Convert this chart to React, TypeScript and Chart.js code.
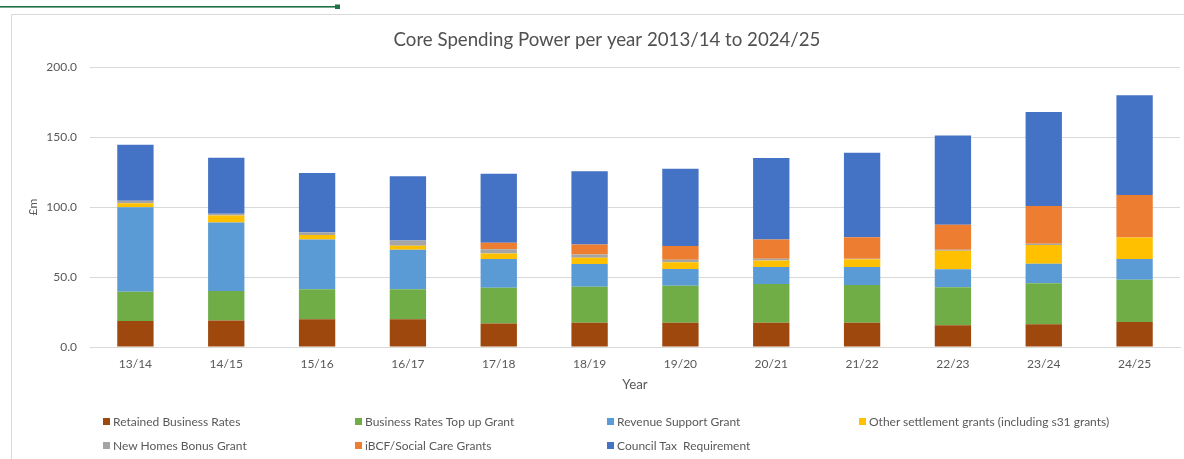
import React, { useEffect, useRef } from "react";
import { Chart, registerables } from "chart.js";

Chart.register(...registerables);

const chartTitle = "Core Spending Power per year 2013/14 to 2024/25";
const years = ["13/14", "14/15", "15/16", "16/17", "17/18", "18/19", "19/20", "20/21", "21/22", "22/23", "23/24", "24/25"];

const retainedBusinessRates = [18.6, 19.0, 19.8, 19.8, 16.7, 17.4, 17.4, 17.4, 17.4, 15.5, 16.2, 17.9];
const businessRatesTopUp = [20.9, 21.0, 21.4, 21.4, 25.7, 25.7, 26.4, 27.6, 26.9, 27.1, 29.3, 30.2];
const revenueSupportGrant = [60.3, 49.0, 35.5, 28.3, 20.5, 16.2, 11.9, 12.1, 12.8, 12.9, 14.0, 14.8];
const otherSettlementGrants = [2.9, 5.0, 3.3, 2.9, 3.8, 4.5, 4.8, 4.6, 5.5, 13.3, 13.4, 15.4];
const newHomesBonus = [1.7, 1.2, 1.9, 3.6, 3.1, 2.2, 1.9, 1.4, 0.5, 0.7, 0.9, 0];
const ibcfSocialCare = [0, 0, 0, 0, 4.7, 7.3, 9.7, 13.6, 15.3, 17.9, 26.9, 30.3];
const councilTax = [40.0, 40.0, 42.4, 45.9, 49.3, 52.2, 55.3, 58.3, 60.4, 63.6, 67.2, 71.2];

const seriesNames = [
  "Retained Business Rates",
  "Business Rates Top up Grant",
  "Revenue Support Grant",
  "Other settlement grants (including s31 grants)",
  "New Homes Bonus Grant",
  "iBCF/Social Care Grants",
  "Council Tax  Requirement",
];
const seriesValues = [
  retainedBusinessRates,
  businessRatesTopUp,
  revenueSupportGrant,
  otherSettlementGrants,
  newHomesBonus,
  ibcfSocialCare,
  councilTax,
];
const seriesColors = ["#9E480E", "#70AD47", "#5B9BD5", "#FFC000", "#A5A5A5", "#ED7D31", "#4472C4"];

const yTickMax = 200;
const yTickStep = 50;
const yAxisTitle = "£m";
const xAxisTitle = "Year";

const TEXT = "#595959";

const legendCols = [103, 355, 607, 859];
const legendRows = [421, 445];

const framePlugin = {
  id: "frameAndTitle",
  beforeDraw(chart: any) {
    const ctx = chart.ctx;
    ctx.save();
    ctx.fillStyle = "#ffffff";
    ctx.fillRect(0, 0, chart.width, chart.height);
    // chart frame
    ctx.strokeStyle = "#d9d9d9";
    ctx.lineWidth = 1;
    ctx.beginPath();
    ctx.moveTo(11.5, chart.height + 2);
    ctx.lineTo(11.5, 14.5);
    ctx.lineTo(chart.width + 2, 14.5);
    ctx.stroke();
    // green selection line
    ctx.fillStyle = "#217346";
    ctx.fillRect(0, 6, 337, 1.6);
    ctx.fillRect(335, 4.5, 5, 4.5);
    ctx.restore();
  },
  afterDraw(chart: any) {
    const ctx = chart.ctx;
    ctx.save();
    ctx.font = "18.67px Lato, 'Open Sans', sans-serif";
    ctx.fillStyle = "#505050";
    ctx.textAlign = "center";
    ctx.textBaseline = "middle";
    ctx.fillText(chartTitle, 607, 40);
    ctx.restore();
  },
};

export default function App() {
  const ref = useRef<HTMLCanvasElement>(null);

  useEffect(() => {
    Chart.defaults.font.family = "Lato, 'Open Sans', sans-serif";
    const chart = new Chart(ref.current!, {
      type: "bar",
      data: {
        labels: years,
        datasets: seriesNames.map((name, i) => ({
          label: name,
          data: seriesValues[i],
          backgroundColor: seriesColors[i],
          borderWidth: 0,
          categoryPercentage: 1,
          barPercentage: 0.4,
          stack: "s",
        })),
      },
      options: {
        responsive: false,
        animation: false,
        layout: { padding: { left: 11, top: 67, right: 4, bottom: 64 } },
        plugins: {
          legend: { display: false },
          title: { display: false },
          tooltip: { enabled: false },
        },
        scales: {
          x: {
            stacked: true,
            grid: { display: false, drawTicks: false },
            border: { display: true, color: "#d9d9d9" },
            ticks: { color: TEXT, font: { size: 12 }, padding: 10 },
            title: {
              display: true,
              text: xAxisTitle,
              color: TEXT,
              font: { size: 13.3 },
              padding: { top: 0, bottom: 2 },
            },
            afterFit: (scale: any) => {
              scale.height = 48;
            },
          },
          y: {
            stacked: true,
            min: 0,
            max: yTickMax,
            grid: { color: "#d9d9d9", drawTicks: false },
            border: { display: false },
            ticks: {
              stepSize: yTickStep,
              color: TEXT,
              font: { size: 12 },
              padding: 13,
              callback: (v: any) => Number(v).toFixed(1),
            },
            title: {
              display: true,
              text: yAxisTitle,
              color: TEXT,
              font: { size: 12 },
              padding: { top: 15, bottom: 0 },
            },
            afterFit: (scale: any) => {
              scale.width = 79;
            },
          },
        },
      },
      plugins: [framePlugin],
    });
    return () => chart.destroy();
  }, []);

  return (
    <div
      style={{
        position: "fixed",
        left: 0,
        top: 0,
        width: 1184,
        height: 459,
        background: "#fff",
        overflow: "hidden",
      }}
    >
      <canvas
        ref={ref}
        width={1184}
        height={459}
        style={{ position: "absolute", left: 0, top: 0, width: 1184, height: 459 }}
      />
      {seriesNames.map((name, i) => {
        const col = i % 4;
        const row = Math.floor(i / 4);
        return (
          <div
            key={name}
            style={{
              position: "absolute",
              left: legendCols[col],
              top: legendRows[row] - 8,
              height: 16,
              display: "flex",
              alignItems: "center",
              fontFamily: "Lato, 'Open Sans', sans-serif",
              fontSize: 12,
              color: TEXT,
              whiteSpace: "pre",
            }}
          >
            <span
              style={{
                display: "inline-block",
                width: 7,
                height: 7,
                background: seriesColors[i],
                marginRight: 3,
              }}
            />
            <span>{name}</span>
          </div>
        );
      })}
    </div>
  );
}
